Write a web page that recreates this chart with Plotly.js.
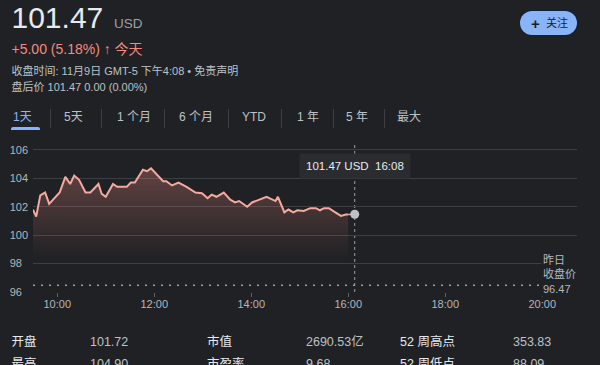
<!DOCTYPE html>
<html>
<head>
<meta charset="utf-8">
<script src="https://cdn.plot.ly/plotly-3.0.1.min.js"></script>
<style>
  html, body { margin: 0; padding: 0; background: #202124; }
  body { width: 600px; height: 365px; overflow: hidden; position: relative;
         font-family: "Liberation Sans", Arial, "Noto Sans CJK SC", sans-serif; }
  #chart { position: absolute; left: 0; top: 0; width: 600px; height: 365px; }
  .t { position: absolute; white-space: nowrap; z-index: 10; }
  .sep { position: absolute; width: 1px; background: #3c4043; z-index: 10; }
</style>
</head>
<body>
<div id="chart"></div>
<div id="overlay"></div>
<script>
// ---------------- data ----------------
const sessionDate = '2023-11-09';
const times = ['09:30','09:34','09:39','09:45','09:50','09:57','10:03','10:10','10:16','10:21',
  '10:27','10:35','10:41','10:51','10:55','11:00','11:09','11:14','11:26','11:31',
  '11:36','11:46','11:51','11:56','12:03','12:11','12:15','12:22','12:30','12:40',
  '12:51','12:59','13:06','13:11','13:17','13:26','13:34','13:40','13:45','13:55',
  '14:01','14:09','14:19','14:30','14:33','14:41','14:46','14:52','14:57','15:05',
  '15:13','15:20','15:25','15:30','15:36','15:44','15:51','15:57','16:00'];
const prices = [101.8,101.3,102.8,103.0,102.2,102.6,103.0,104.1,103.6,104.2,
  103.9,103.0,103.0,103.6,102.9,102.7,103.6,103.4,103.4,103.7,
  103.7,104.6,104.5,104.7,104.3,103.8,103.8,103.5,103.7,103.4,
  103.0,102.95,102.6,102.85,102.7,103.0,102.5,102.3,102.4,102.0,
  102.3,102.5,102.7,102.4,102.7,101.6,101.8,101.6,101.75,101.7,
  101.9,101.9,101.75,101.9,101.9,101.6,101.35,101.45,101.45];
const lastTime = '16:08';
const lastPrice = 101.47;
const prevClose = 96.47;
const yTicks = [96, 98, 100, 102, 104, 106];
const xTicks = ['10:00','12:00','14:00','16:00','18:00','20:00'];
const xRange = ['09:30','20:43'];
const yRange = [95.99, 106.49];

const headerPrice = '101.47';
const headerCurrency = 'USD';
const headerChange = '+5.00 (5.18%)';
const headerArrow = '↑';
const headerToday = '今天';
const headerClose = '收盘时间: 11月9日 GMT-5 下午4:08 • 免责声明';
const headerAfter = '盘后价 101.47 0.00 (0.00%)';
const followLabel = '关注';
const tabs = ['1天','5天','1 个月','6 个月','YTD','1 年','5 年','最大'];
const statLabels1 = ['开盘','市值','52 周高点'];
const statValues1 = ['101.72','2690.53亿','353.83'];
const statLabels2 = ['最高','市盈率','52 周低点'];
const statValues2 = ['104.90','9.68','88.09'];
const prevCloseLabel = ['昨日','收盘价'];

// ---------------- chart ----------------
const ts = t => sessionDate + ' ' + t;
const FONT = '"Liberation Sans", Arial, "Noto Sans CJK SC", sans-serif';
const lineColor = '#f5a9a1';

const traces = [
  {
    x: times.map(ts), y: prices, type: 'scatter', mode: 'lines',
    line: { color: lineColor, width: 2 },
    fill: 'tozeroy',
    fillgradient: { type: 'vertical', start: 98.3, stop: 104.8,
      colorscale: [[0, 'rgba(242,139,130,0)'], [1, 'rgba(242,139,130,0.32)']] },
    hoverinfo: 'skip'
  },
  {
    x: [ts(times[times.length - 1]), ts(lastTime)],
    y: [prices[prices.length - 1], lastPrice],
    type: 'scatter', mode: 'lines', line: { color: lineColor, width: 1.3 }, hoverinfo: 'skip'
  },
  {
    x: [ts(lastTime)], y: [lastPrice], type: 'scatter', mode: 'markers',
    marker: { size: 9, color: '#bdc1c6' }, hoverinfo: 'skip'
  }
];

const layout = {
  width: 600, height: 365,
  margin: { l: 33, r: 23, t: 143, b: 73 },
  paper_bgcolor: '#202124', plot_bgcolor: '#202124',
  showlegend: false,
  font: { family: FONT, color: '#b4b8bd', size: 11 },
  xaxis: {
    type: 'date', range: xRange.map(ts),
    tickvals: xTicks.map(ts), ticktext: xTicks,
    showgrid: false, zeroline: false, showline: false,
    ticks: 'outside', ticklen: 4, tickcolor: '#5f6368', tickwidth: 1,
    ticklabelstandoff: -2,
    tickfont: { size: 11, color: '#b4b8bd' }
  },
  yaxis: {
    range: yRange, tickvals: yTicks,
    ticktext: yTicks.map(v => v < 100 ? v + '\u00a0\u00a0' : String(v)),
    showgrid: true, gridcolor: '#3c4043', gridwidth: 1,
    zeroline: false, showline: false, ticks: '',
    ticklabelstandoff: 4,
    tickfont: { size: 11, color: '#b4b8bd' }
  },
  shapes: [
    { type: 'line', xref: 'paper', x0: 0, x1: 1, yref: 'y', y0: prevClose, y1: prevClose,
      line: { color: '#9aa0a6', width: 1.5, dash: '2px,6px' }, layer: 'between' },
    { type: 'line', xref: 'x', x0: ts(lastTime), x1: ts(lastTime), yref: 'paper', y0: 0, y1: 1,
      line: { color: '#9aa0a6', width: 1, dash: 'dot' }, layer: 'between' }
  ],
  annotations: [
    { xref: 'x', x: ts(lastTime), yref: 'paper', y: 0.846, yanchor: 'middle', xanchor: 'center',
      text: lastPrice.toFixed(2) + ' USD&nbsp;&nbsp;' + lastTime, showarrow: false,
      bgcolor: '#2b2c2f', borderpad: 6, font: { size: 11.5, color: '#e8eaed', family: FONT } },
    { xref: 'paper', x: 0.934, xanchor: 'left', yref: 'y', y: prevClose, yanchor: 'bottom', yshift: -12,
      text: prevCloseLabel.join('<br>') + '<br>' + prevClose.toFixed(2), align: 'left', showarrow: false,
      bgcolor: '#202124', borderpad: 1, font: { size: 11, color: '#b4b8bd', family: FONT } }
  ]
};

Plotly.newPlot('chart', traces, layout, { staticPlot: true, displayModeBar: false });

// ---------------- header / tabs / stats (HTML text) ----------------
const ov = document.getElementById('overlay');
function txt(s, left, cy, size, color, extra) {
  const d = document.createElement('div');
  d.className = 't';
  d.textContent = s;
  d.style.left = left + 'px';
  d.style.top = (cy - size / 2) + 'px';
  d.style.fontSize = size + 'px';
  d.style.lineHeight = size + 'px';
  d.style.color = color;
  if (extra) Object.assign(d.style, extra);
  ov.appendChild(d);
  return d;
}
txt(headerPrice, 11.5, 17.5, 30, '#e8eaed');
txt(headerCurrency, 114, 23.5, 13.5, '#9aa0a6');
const ch = txt(headerChange + ' ', 11.5, 49, 14, '#f28b82');
const arrowSpan = document.createElement('span');
arrowSpan.textContent = headerArrow;
arrowSpan.style.fontWeight = 'bold';
ch.appendChild(arrowSpan);
ch.appendChild(document.createTextNode(' ' + headerToday));
txt(headerClose, 11.5, 71.5, 11, '#bdc1c6');
txt(headerAfter, 11.5, 87.5, 11, '#bdc1c6');

// follow button
const btn = document.createElement('div');
btn.className = 't';
Object.assign(btn.style, { left: '520px', top: '11px', width: '57px', height: '24px',
  borderRadius: '12px', background: '#8ab4f8', boxShadow: '0 0 0 1px #0d2240' });
ov.appendChild(btn);
txt('+', 531, 23, 15, '#202124', { fontWeight: 'bold' });
txt(followLabel, 546, 23.5, 11, '#202124');

// tabs
const tabLeft = [13, 64, 117, 179, 242, 297, 346, 397];
const sepX = [50, 101, 164, 228, 281, 333, 384];
tabs.forEach((s, i) => txt(s, tabLeft[i], 117, 12, i === 0 ? '#8ab4f8' : '#bdc1c6'));
sepX.forEach(x => {
  const d = document.createElement('div'); d.className = 'sep';
  Object.assign(d.style, { left: x + 'px', top: '109px', height: '19px' });
  ov.appendChild(d);
});
const ul = document.createElement('div'); ul.className = 't';
Object.assign(ul.style, { left: '11px', top: '127px', width: '29px', height: '3px',
  background: '#8ab4f8', borderRadius: '2px 2px 0 0' });
ov.appendChild(ul);

// stats
const colX = [11.5, 207, 400];
const valX = [90, 306, 513];
statLabels1.forEach((s, i) => { txt(s, colX[i], 342, 12.5, '#e8eaed'); txt(statValues1[i], valX[i], 342, 12.5, '#bdc1c6'); });
statLabels2.forEach((s, i) => { txt(s, colX[i], 364.5, 12.5, '#e8eaed'); txt(statValues2[i], valX[i], 364.5, 12.5, '#bdc1c6'); });
</script>
</body>
</html>
